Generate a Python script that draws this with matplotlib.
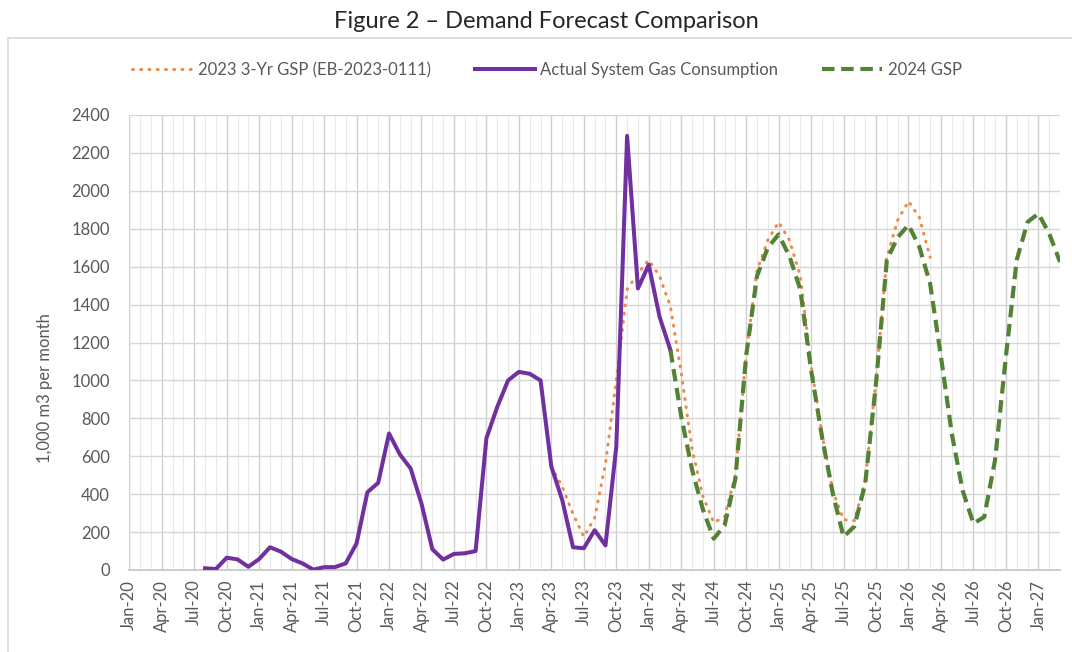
import pandas as pd
import matplotlib.pyplot as plt
from matplotlib.patches import Rectangle

plt.rcParams['font.family'] = ['Lato', 'DejaVu Sans']

# month axis Jan-20 .. Mar-27
months = pd.date_range('2020-01-01', '2027-03-01', freq='MS')
month_labels = [d.strftime('%b-%y') for d in months]

# Actual System Gas Consumption, Aug-20 .. Mar-24
actual_start = 7
actual = [9, 5, 65, 56, 17,
          58, 120, 97, 58, 35, 2, 15, 15, 35, 140, 410, 460,
          720, 610, 535, 350, 110, 55, 85, 88, 100, 695, 860, 1000,
          1045, 1035, 1000, 545, 370, 120, 115, 210, 130, 650, 2290, 1485,
          1610, 1335, 1160]

# 2023 3-Yr GSP (EB-2023-0111), Apr-23 .. Mar-26
gsp23_start = 39
gsp23 = [545, 440, 295, 175, 275, 560, 1000, 1480, 1565,
         1635, 1550, 1390, 1040, 640, 390, 250, 280, 500, 1140, 1580, 1740,
         1835, 1740, 1550, 1080, 720, 420, 265, 260, 470, 1000, 1650, 1845,
         1945, 1860, 1650]

# 2024 GSP, Mar-24 .. Mar-27
gsp24_start = 50
gsp24 = [1160, 810, 530, 320, 165, 235, 480, 1130, 1550, 1700,
         1770, 1655, 1480, 1055, 705, 405, 175, 230, 455, 985, 1635, 1755,
         1820, 1705, 1510, 1125, 720, 420, 245, 280, 580, 1125, 1635, 1835,
         1880, 1775, 1625]

fig = plt.figure(figsize=(10.72, 6.52), dpi=100)
ax = fig.add_axes([129.3 / 1072, 1 - 570 / 652, (1060 - 129.3) / 1072, (570 - 115) / 652])

# chart area border
fig.patches.append(Rectangle((8 / 1072, -0.05), 1.2, 1 - 38 / 652 + 0.05,
                             transform=fig.transFigure, fill=False,
                             edgecolor='#d9d9d9', linewidth=1.2))

x_gsp23 = range(gsp23_start, gsp23_start + len(gsp23))
x_actual = range(actual_start, actual_start + len(actual))
x_gsp24 = range(gsp24_start, gsp24_start + len(gsp24))

ax.plot(x_gsp23, gsp23, color='#EE8A4A', linewidth=2.2, linestyle=(0, (0.3, 2.4)),
        dash_capstyle='round', label='2023 3-Yr GSP (EB-2023-0111)', zorder=3)
ax.plot(x_actual, actual, color='#7030A0', linewidth=2.9,
        label='Actual System Gas Consumption', zorder=4)
ax.plot(x_gsp24, gsp24, color='#548235', linewidth=3, linestyle=(0, (3.0, 1.6)),
        label='2024 GSP', zorder=5)

ax.set_xlim(0, len(months) - 1)
ax.set_ylim(0, 2400)
ax.set_yticks(range(0, 2401, 200))
ax.set_xticks(range(0, len(months), 3))
ax.set_xticklabels(month_labels[::3], rotation=90)
ax.set_xticks(range(len(months)), minor=True)

ax.grid(which='major', axis='x', color='#cfcfcf', linewidth=1)
ax.grid(which='minor', axis='x', color='#e8e8e8', linewidth=0.8)
ax.grid(which='major', axis='y', color='#d6d6d6', linewidth=1)
ax.set_axisbelow(True)

for s in ['top', 'right', 'left']:
    ax.spines[s].set_visible(False)
ax.spines['bottom'].set_color('#c8c8c8')
ax.spines['bottom'].set_linewidth(1.3)

ax.tick_params(axis='both', which='both', length=0, colors='#595959', labelsize=12)
ax.tick_params(axis='y', pad=14)
ax.tick_params(axis='x', pad=7)

fig.text(45 / 1072, 1 - 388 / 652, '1,000 m3 per month', rotation=90,
         ha='center', va='center', fontsize=12, color='#595959')
fig.text(546 / 1072, 1 - 21 / 652, 'Figure 2 \u2013 Demand Forecast Comparison',
         ha='center', va='center', fontsize=17, color='#262626')

fig.legend(loc='center', bbox_to_anchor=(547 / 1072, 1 - 70 / 652), ncol=3,
           frameon=False, fontsize=12, handlelength=3.6, handletextpad=0.35,
           columnspacing=2.6, labelcolor='#595959')

plt.savefig('out.png', dpi=100)
